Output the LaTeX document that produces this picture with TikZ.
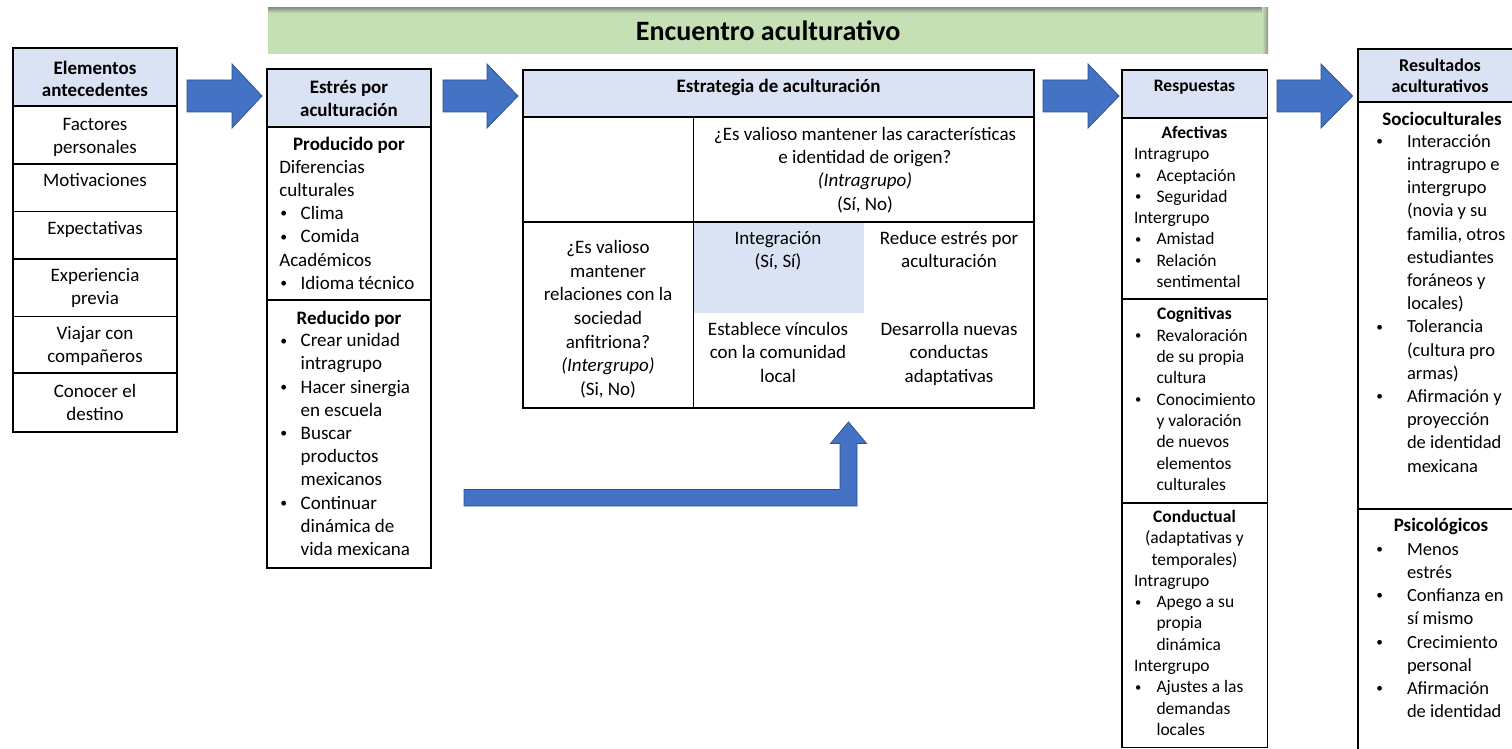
\documentclass[tikz,border=0pt]{standalone}
\usepackage{fontspec}
\setmainfont{Carlito}
\usetikzlibrary{calc}
\definecolor{hdr}{RGB}{218,227,243}
\definecolor{ablue}{RGB}{68,114,196}
\definecolor{ablueD}{RGB}{47,82,143}
\definecolor{bgreen}{RGB}{197,224,180}
\definecolor{gshadow}{RGB}{140,150,140}
\newcommand\fA{\fontsize{19}{23.2}\selectfont}
\newcommand\fB{\fontsize{17.5}{21.3}\selectfont}
\newcommand\fC{\fontsize{18.5}{23.2}\selectfont}
\newcommand\smbul{\raisebox{0.09em}{\scalebox{0.72}{•}}}
\newcommand\bA{\makebox[21.4pt][l]{\hspace*{1pt}\smbul}}
\newcommand\hA{\hspace*{21.4pt}}
\newcommand\bB{\makebox[22.5pt][l]{\hspace*{1pt}\smbul}}
\newcommand\hB{\hspace*{22.5pt}}
\newcommand\bC{\makebox[31.6pt][l]{\hspace*{1pt}\smbul}}
\newcommand\hC{\hspace*{31.6pt}}
\newcommand\barrowshape[3]{%
  \draw[barrow] (#1,80) -- (#2,80) -- (#2,64) -- (#3,96) -- (#2,128) -- (#2,112) -- (#1,112) -- cycle;}
\tikzset{
  cell/.style={draw=black, line width=1.4pt, fill=white, anchor=north west, inner sep=0pt, outer sep=0pt},
  hcell/.style={cell, fill=hdr},
  ctext/.style={inner sep=0pt, outer sep=0pt, anchor=north, align=center},
  ltext/.style={inner sep=0pt, outer sep=0pt, anchor=north west, align=left},
  barrow/.style={fill=ablue, draw=ablueD, line width=0.8pt, line join=miter},
}
\begin{document}
\begin{tikzpicture}[x=1pt,y=-1pt]
\useasboundingbox (0,0) rectangle (1512,749);
\clip (0,0) rectangle (1512,749);
\fill[white] (0,0) rectangle (1512,749);

% ---------- banner ----------
\node[fill=bgreen, minimum width=1000pt, minimum height=46pt, anchor=north west, inner sep=0pt] (ban) at (268,8) {};
\shade[top color=gshadow, bottom color=bgreen] (268,8) rectangle (1268,13);
\shade[left color=bgreen, right color=gshadow] (1262,8) rectangle (1268,54);
\node[font=\fontsize{28}{30}\selectfont\bfseries, inner sep=0pt] (title) at (ban.center) {Encuentro aculturativo};

% ---------- box 1 ----------
\node[hcell, minimum width=164pt, minimum height=58pt] (e0) at (13,48) {};
\node[cell, minimum width=164pt, minimum height=58pt] (e1) at (13,106) {};
\node[cell, minimum width=164pt, minimum height=47.5pt] (e2) at (13,164) {};
\node[cell, minimum width=164pt, minimum height=47.5pt] (e3) at (13,211.5) {};
\node[cell, minimum width=164pt, minimum height=57.5pt] (e4) at (13,259) {};
\node[cell, minimum width=164pt, minimum height=56.5pt] (e5) at (13,316.5) {};
\node[cell, minimum width=164pt, minimum height=59pt] (e6) at (13,373) {};
\node[ctext, font=\fontsize{19}{22.5}\selectfont\bfseries] (e0t) at (95,58.5) {\strut Elementos\\antecedentes};
\node[ctext, font=\fA] (e1t) at (95,114) {\strut Factores\\personales};
\node[ctext, font=\fA] (e2t) at (95,170.5) {\strut Motivaciones};
\node[ctext, font=\fA] (e3t) at (95,218) {\strut Expectativas};
\node[ctext, font=\fA] (e4t) at (95,265) {\strut Experiencia\\previa};
\node[ctext, font=\fA] (e5t) at (95,323) {\strut Viajar con\\compañeros};
\node[ctext, font=\fA] (e6t) at (95,381) {\strut Conocer el\\destino};

% ---------- box 2 ----------
\node[hcell, minimum width=164pt, minimum height=58pt] (s0) at (267,69) {};
\node[cell, minimum width=164pt, minimum height=173pt] (s1) at (267,127) {};
\node[cell, minimum width=164pt, minimum height=268pt] (s2) at (267,300) {};
\node[ctext, font=\fA\bfseries] (s0t) at (349,77) {\strut Estrés por\\aculturación};
\node[ctext, font=\fA\bfseries] (s1h) at (349,134) {\strut Producido por};
\node[ltext, font=\fA] (s1t) at (279.3,157) {\strut Diferencias\\culturales\\\bA Clima\\\bA Comida\\Académicos\\\bA Idioma técnico};
\node[ctext, font=\fA\bfseries] (s2h) at (349,308) {\strut Reducido por};
\node[ltext, font=\fA] (s2t) at (279.3,330.5) {\strut\bA Crear unidad\\\hA intragrupo\\\bA Hacer sinergia\\\hA en escuela\\\bA Buscar\\\hA productos\\\hA mexicanos\\\bA Continuar\\\hA dinámica de\\\hA vida mexicana};

% ---------- box 3 ----------
\node[hcell, minimum width=511pt, minimum height=47pt] (t0) at (523,70) {};
\node[cell, minimum width=170.5pt, minimum height=105pt] (t1) at (523,117) {};
\node[cell, minimum width=340.5pt, minimum height=105pt] (t2) at (693.5,117) {};
\node[cell, minimum width=170.5pt, minimum height=186pt] (t3) at (523,222) {};
\node[cell, minimum width=340.5pt, minimum height=186pt] (t4) at (693.5,222) {};
\fill[hdr] ([xshift=0.7pt,yshift=-0.7pt]t4.north west) rectangle (864,313);
\node[ctext, font=\fA\bfseries] (t0t) at (778.5,76.5) {\strut Estrategia de aculturación};
\node[ctext, font=\fontsize{19}{23.3}\selectfont] (t2t) at (865,124) {\strut ¿Es valioso mantener las características\\e identidad de origen?\\\textit{(Intragrupo)}\\(Sí, No)};
\node[ctext, font=\fontsize{19}{23.67}\selectfont] (t3t) at (608,237) {\strut ¿Es valioso\\mantener\\relaciones con la\\sociedad\\anfitriona?\\\textit{(Intergrupo)}\\(Si, No)};
\node[ctext, font=\fA] (t4a) at (778,228) {\strut Integración\\(Sí, Sí)};
\node[ctext, font=\fA] (t4b) at (949,228) {\strut Reduce estrés por\\aculturación};
\node[ctext, font=\fA] (t4c) at (778,319.5) {\strut Establece vínculos\\con la comunidad\\local};
\node[ctext, font=\fA] (t4d) at (949,319.5) {\strut Desarrolla nuevas\\conductas\\adaptativas};

% ---------- box 4 ----------
\node[hcell, minimum width=145.5pt, minimum height=48pt] (r0) at (1122,70) {};
\node[cell, minimum width=145.5pt, minimum height=181pt] (r1) at (1122,118) {};
\node[cell, minimum width=145.5pt, minimum height=204pt] (r2) at (1122,299) {};
\node[cell, minimum width=145.5pt, minimum height=244.5pt] (r3) at (1122,503) {};
\node[ctext, font=\fB\bfseries] (r0t) at (1194.5,77) {\strut Respuestas};
\node[ctext, font=\fB\bfseries] (r1h) at (1194.5,123.5) {\strut Afectivas};
\node[ltext, font=\fB] (r1t) at (1134,144.8) {\strut Intragrupo\\\bB Aceptación\\\bB Seguridad\\Intergrupo\\\bB Amistad\\\bB Relación\\\hB sentimental};
\node[ctext, font=\fB\bfseries] (r2h) at (1194.5,305) {\strut Cognitivas};
\node[ltext, font=\fB] (r2t) at (1134,326.3) {\strut\bB Revaloración\\\hB de su propia\\\hB cultura\\\bB Conocimiento\\\hB y valoración\\\hB de nuevos\\\hB elementos\\\hB culturales};
\node[ctext, font=\fB] (r3h) at (1194.5,507.5) {\strut\textbf{Conductual}\\(adaptativas y\\temporales)};
\node[ltext, font=\fB] (r3t) at (1134,571.4) {\strut Intragrupo\\\bB Apego a su\\\hB propia\\\hB dinámica\\Intergrupo\\\bB Ajustes a las\\\hB demandas\\\hB locales};

% ---------- box 5 ----------
\node[hcell, minimum width=200pt, minimum height=53pt] (u0) at (1358,49) {};
\node[cell, minimum width=200pt, minimum height=407pt] (u1) at (1358,102) {};
\node[cell, minimum width=200pt, minimum height=260pt] (u2) at (1358,509) {};
\node[ctext, font=\fontsize{18}{21.5}\selectfont\bfseries] (u0t) at (1440,56.2) {\strut Resultados\\aculturativos};
\node[ctext, font=\fA\bfseries] (u1h) at (1442,109) {\strut Socioculturales};
\node[ltext, font=\fC] (u1t) at (1375.4,131) {\strut\bC Interacción\\\hC intragrupo e\\\hC intergrupo\\\hC (novia y su\\\hC familia, otros\\\hC estudiantes\\\hC foráneos y\\\hC locales)\\\bC Tolerancia\\\hC (cultura pro\\\hC armas)\\\bC Afirmación y\\\hC proyección\\\hC de identidad\\\hC mexicana};
\node[ctext, font=\fA\bfseries] (u2h) at (1441,515) {\strut Psicológicos};
\node[ltext, font=\fC] (u2t) at (1375.4,539) {\strut\bC Menos\\\hC estrés\\\bC Confianza en\\\hC sí mismo\\\bC Crecimiento\\\hC personal\\\bC Afirmación\\\hC de identidad};

% ---------- block arrows ----------
\barrowshape{187}{232}{262}
\barrowshape{443}{487}{518}
\barrowshape{1043}{1088}{1119}
\barrowshape{1277}{1321}{1352.5}

% bent arrow into the strategy table
\coordinate (bstart) at (464,489.5);
\coordinate (btip) at (848.5,422);
\draw[barrow] (bstart) -- (840,489.5) -- (840,443.5) -- (830.5,443.5) -- (btip) -- (866.5,443.5) -- (857,443.5) -- (857,506) -- (464,506) -- cycle;
\end{tikzpicture}
\end{document}
